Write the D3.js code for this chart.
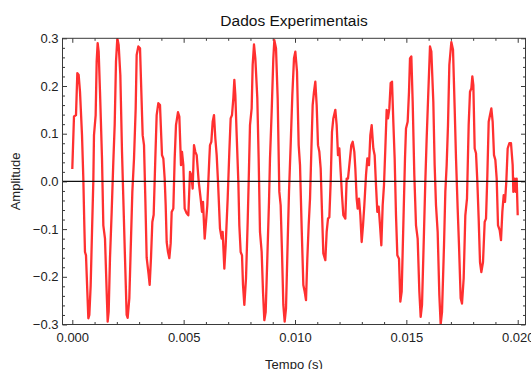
<!DOCTYPE html>
<html>
<head>
<meta charset="utf-8">
<script src="https://cdn.jsdelivr.net/npm/d3@7"></script>
<style>
  html, body { margin: 0; padding: 0; background: #fff; }
  svg { display: block; font-family: "Liberation Sans", Arial, sans-serif; }
</style>
</head>
<body>
<svg id="chart" width="531" height="369"></svg>
<script>
// Sample times (s)
const tempo = [
  0.000000, 0.000076, 0.000166, 0.000226, 0.000286, 0.000346, 0.000436, 0.000495, 0.000540, 0.000570,
  0.000615, 0.000675, 0.000720, 0.000765, 0.000825, 0.000885, 0.000944, 0.000974, 0.001049, 0.001094,
  0.001139, 0.001184, 0.001244, 0.001334, 0.001393, 0.001468, 0.001543, 0.001588, 0.001633, 0.001693,
  0.001768, 0.001842, 0.001903, 0.001962, 0.002022, 0.002082, 0.002157, 0.002232, 0.002291, 0.002366,
  0.002441, 0.002486, 0.002561, 0.002636, 0.002696, 0.002771, 0.002846, 0.002890, 0.002965, 0.003041,
  0.003100, 0.003160, 0.003220, 0.003279, 0.003339, 0.003429, 0.003474, 0.003534, 0.003594, 0.003654,
  0.003728, 0.003788, 0.003863, 0.003938, 0.003998, 0.004028, 0.004088, 0.004148, 0.004193, 0.004238,
  0.004297, 0.004357, 0.004417, 0.004462, 0.004537, 0.004597, 0.004656, 0.004746, 0.004806, 0.004881,
  0.004926, 0.004986, 0.005046, 0.005136, 0.005210, 0.005285, 0.005345, 0.005405, 0.005465, 0.005524,
  0.005585, 0.005675, 0.005764, 0.005824, 0.005869, 0.005944, 0.006004, 0.006063, 0.006153, 0.006183,
  0.006243, 0.006303, 0.006363, 0.006423, 0.006483, 0.006542, 0.006632, 0.006707, 0.006752, 0.006827,
  0.006887, 0.006977, 0.007051, 0.007111, 0.007171, 0.007231, 0.007276, 0.007321, 0.007381, 0.007455,
  0.007500, 0.007560, 0.007620, 0.007665, 0.007725, 0.007800, 0.007875, 0.007934, 0.007979, 0.008054,
  0.008099, 0.008159, 0.008219, 0.008308, 0.008368, 0.008428, 0.008503, 0.008563, 0.008623, 0.008683,
  0.008757, 0.008832, 0.008877, 0.008952, 0.009027, 0.009072, 0.009147, 0.009222, 0.009296, 0.009356,
  0.009416, 0.009476, 0.009536, 0.009596, 0.009671, 0.009731, 0.009805, 0.009880, 0.009955, 0.010015,
  0.010090, 0.010165, 0.010225, 0.010300, 0.010374, 0.010434, 0.010494, 0.010554, 0.010614, 0.010674,
  0.010733, 0.010793, 0.010853, 0.010913, 0.010973, 0.011033, 0.011093, 0.011153, 0.011212, 0.011272,
  0.011362, 0.011422, 0.011482, 0.011542, 0.011602, 0.011661, 0.011721, 0.011811, 0.011871, 0.011931,
  0.011991, 0.012051, 0.012110, 0.012170, 0.012260, 0.012320, 0.012380, 0.012529, 0.012590, 0.012664,
  0.012709, 0.012769, 0.012814, 0.012874, 0.012934, 0.012994, 0.013054, 0.013113, 0.013188, 0.013248,
  0.013323, 0.013383, 0.013443, 0.013517, 0.013577, 0.013637, 0.013697, 0.013757, 0.013817, 0.013877,
  0.013937, 0.013996, 0.014056, 0.014116, 0.014176, 0.014236, 0.014296, 0.014356, 0.014415, 0.014475,
  0.014535, 0.014595, 0.014670, 0.014730, 0.014790, 0.014864, 0.014939, 0.014984, 0.015059, 0.015119,
  0.015164, 0.015224, 0.015284, 0.015358, 0.015433, 0.015508, 0.015583, 0.015643, 0.015703, 0.015792,
  0.015852, 0.015912, 0.015987, 0.016062, 0.016122, 0.016211, 0.016271, 0.016331, 0.016406, 0.016481,
  0.016541, 0.016601, 0.016691, 0.016750, 0.016810, 0.016870, 0.016930, 0.017020, 0.017095, 0.017170,
  0.017230, 0.017304, 0.017364, 0.017439, 0.017499, 0.017574, 0.017648, 0.017723, 0.017798, 0.017858,
  0.017918, 0.017963, 0.018008, 0.018068, 0.018128, 0.018187, 0.018247, 0.018307, 0.018367, 0.018442,
  0.018517, 0.018577, 0.018637, 0.018697, 0.018756, 0.018816, 0.018876, 0.018936, 0.018996, 0.019056,
  0.019116, 0.019190, 0.019250, 0.019310, 0.019370, 0.019430, 0.019489, 0.019549, 0.019624, 0.019699,
  0.019774, 0.019804, 0.019864, 0.019909, 0.019953, 0.020000
];

// Measured amplitude at each sample time
const amplitude = [
   0.026,  0.136,  0.139,  0.227,  0.223,  0.188,  0.097,  0.006, -0.092, -0.148,
  -0.155, -0.231, -0.287, -0.280, -0.218, -0.106,  0.000,  0.097,  0.139,  0.251,
   0.290,  0.272,  0.188,  0.048, -0.092, -0.120, -0.231, -0.294, -0.273, -0.160,
  -0.064,  0.041,  0.118,  0.251,  0.300,  0.286,  0.223,  0.062, -0.036, -0.160,
  -0.280, -0.286, -0.245, -0.120, -0.022,  0.048,  0.153,  0.265,  0.283,  0.279,
   0.188,  0.097,  0.076, -0.036, -0.160, -0.196, -0.217, -0.160, -0.085, -0.070,
   0.048,  0.139,  0.164,  0.160,  0.090,  0.055,  0.048,  0.006, -0.050, -0.127,
  -0.148, -0.161, -0.130, -0.064, -0.057,  0.048,  0.118,  0.145,  0.136,  0.034,
   0.062,  0.034, -0.057, -0.067, -0.071,  0.020,  0.013, -0.015,  0.076,  0.062,
   0.055,  0.000, -0.036, -0.064, -0.043, -0.120, -0.085, -0.050,  0.048,  0.076,
   0.083,  0.125,  0.139,  0.090,  0.055,  0.000, -0.099, -0.120, -0.106, -0.183,
  -0.134, -0.036,  0.062,  0.132,  0.139,  0.174,  0.213,  0.181,  0.097,  0.000,
  -0.092, -0.148, -0.155, -0.217, -0.259, -0.203, -0.085,  0.027,  0.118,  0.153,
   0.244,  0.287,  0.258,  0.174,  0.048, -0.106, -0.148, -0.231, -0.291, -0.274,
  -0.161, -0.043,  0.048,  0.146,  0.258,  0.296,  0.279,  0.174, -0.022, -0.050,
  -0.148, -0.259, -0.294, -0.266, -0.127, -0.022,  0.076,  0.181,  0.258,  0.272,
   0.230,  0.076,  0.034, -0.099, -0.217, -0.231, -0.249, -0.161, -0.092, -0.036,
   0.062,  0.160,  0.188,  0.209,  0.160,  0.076,  0.062,  0.027, -0.064, -0.151,
  -0.165, -0.106, -0.078, -0.075,  0.000,  0.104,  0.132,  0.150,  0.118,  0.055,
   0.069,  0.020, -0.029, -0.071, -0.078,  0.006,  0.006,  0.076,  0.083,  0.062,
   0.027, -0.036, -0.057, -0.036, -0.071, -0.127, -0.092, -0.050,  0.013,  0.048,
   0.034,  0.097,  0.118,  0.069,  0.055, -0.008, -0.064, -0.053, -0.092, -0.134,
  -0.050, -0.008,  0.069,  0.150,  0.132,  0.153,  0.206,  0.209,  0.125,  0.048,
  -0.071, -0.155, -0.162, -0.252, -0.231, -0.092,  0.048,  0.111,  0.125,  0.188,
   0.258,  0.262,  0.167,  0.013, -0.092, -0.120, -0.231, -0.284, -0.259, -0.106,
   0.000,  0.090,  0.188,  0.283,  0.272,  0.167,  0.034, -0.050, -0.106, -0.238,
  -0.300, -0.274, -0.134, -0.022,  0.034,  0.118,  0.244,  0.292,  0.276,  0.153,
   0.048, -0.057, -0.134, -0.245, -0.256, -0.203, -0.071, -0.036,  0.118,  0.188,
   0.195,  0.220,  0.202,  0.069,  0.059,  0.000, -0.078, -0.169, -0.190, -0.169,
  -0.085, -0.078,  0.013,  0.125,  0.139,  0.153,  0.125,  0.055,  0.045,  0.006,
  -0.092, -0.102, -0.123, -0.064, -0.029, -0.043,  0.000,  0.069,  0.080,  0.080,
   0.034, -0.022,  0.006, -0.022,  0.006, -0.071
];

// Axis ticks and labels
const xMajorTicks = [0.000, 0.005, 0.010, 0.015, 0.020];
const xTickLabels = ["0.000", "0.005", "0.010", "0.015", "0.020"];
const yMajorTicks = [-0.3, -0.2, -0.1, 0.0, 0.1, 0.2, 0.3];
const yTickLabels = ["\u22120.3", "\u22120.2", "\u22120.1", "0.0", "0.1", "0.2", "0.3"];

const titleText = "Dados Experimentais";
const xAxisTitle = "Tempo (s)";
const yAxisTitle = "Amplitude";

const svg = d3.select("#chart");
const frame = { left: 62.5, right: 525.5, top: 38.3, bottom: 324.5 };

const x = d3.scaleLinear().domain([-0.00044, 0.02035]).range([frame.left, frame.right]);
const y = d3.scaleLinear().domain([-0.3, 0.3]).range([frame.bottom, frame.top]);

const xMinor = d3.range(0, 0.0204, 0.001).map(v => +v.toFixed(4))
  .filter(v => !xMajorTicks.some(m => Math.abs(m - v) < 1e-9));
const yMinor = d3.range(-0.3, 0.3001, 0.02).map(v => +v.toFixed(3))
  .filter(v => !yMajorTicks.some(m => Math.abs(m - v) < 1e-9));

const frameColor = "#3a3a3a";
const labelColor = "#222";

// Clip region for the data line
svg.append("defs").append("clipPath").attr("id", "plotClip")
  .append("rect")
  .attr("x", frame.left).attr("y", frame.top)
  .attr("width", frame.right - frame.left)
  .attr("height", frame.bottom - frame.top);

// Tick helper: draws inward ticks on one side of the frame
function drawAxis(axisGen, transform, cls) {
  const g = svg.append("g").attr("class", cls).attr("transform", transform).call(axisGen);
  g.select(".domain").remove();
  g.selectAll(".tick line").attr("stroke", frameColor).attr("stroke-width", 1);
  g.selectAll(".tick text").attr("fill", labelColor).style("font-size", "13px")
    .style("font-family", "'Liberation Sans', Arial, sans-serif");
  return g;
}

// Bottom axis (labelled) and its minor ticks
drawAxis(d3.axisBottom(x).tickValues(xMajorTicks).tickSize(-4.5).tickPadding(8.5)
  .tickFormat((d, i) => xTickLabels[i]), `translate(0,${frame.bottom})`, "x-major");
drawAxis(d3.axisBottom(x).tickValues(xMinor).tickSize(-2.5).tickFormat(""),
  `translate(0,${frame.bottom})`, "x-minor");
// Top axis mirrors the ticks without labels
drawAxis(d3.axisTop(x).tickValues(xMajorTicks).tickSize(-4.5).tickFormat(""),
  `translate(0,${frame.top})`, "x-top-major");
drawAxis(d3.axisTop(x).tickValues(xMinor).tickSize(-2.5).tickFormat(""),
  `translate(0,${frame.top})`, "x-top-minor");

// Left axis (labelled) and minor ticks
drawAxis(d3.axisLeft(y).tickValues(yMajorTicks).tickSize(-4.5).tickPadding(4)
  .tickFormat((d, i) => yTickLabels[i]), `translate(${frame.left},0)`, "y-major");
drawAxis(d3.axisLeft(y).tickValues(yMinor).tickSize(-2.5).tickFormat(""),
  `translate(${frame.left},0)`, "y-minor");
// Right axis mirrors the ticks
drawAxis(d3.axisRight(y).tickValues(yMajorTicks).tickSize(-4.5).tickFormat(""),
  `translate(${frame.right},0)`, "y-right-major");
drawAxis(d3.axisRight(y).tickValues(yMinor).tickSize(-2.5).tickFormat(""),
  `translate(${frame.right},0)`, "y-right-minor");

// Signal line
const points = tempo.map((t, i) => [t, amplitude[i]]);
const line = d3.line().x(d => x(d[0])).y(d => y(d[1]));
svg.append("path")
  .datum(points)
  .attr("clip-path", "url(#plotClip)")
  .attr("d", line)
  .attr("fill", "none")
  .attr("stroke", "#ff1a1a")
  .attr("stroke-opacity", 0.9)
  .attr("stroke-width", 2.3)
  .attr("stroke-linejoin", "round");

// Zero reference line
svg.append("line")
  .attr("x1", frame.left).attr("x2", frame.right)
  .attr("y1", y(0)).attr("y2", y(0))
  .attr("stroke", "#111").attr("stroke-width", 1.1);

// Frame
svg.append("rect")
  .attr("x", frame.left).attr("y", frame.top)
  .attr("width", frame.right - frame.left)
  .attr("height", frame.bottom - frame.top)
  .attr("fill", "none").attr("stroke", frameColor).attr("stroke-width", 1);

// Titles
svg.append("text")
  .attr("x", (frame.left + frame.right) / 2).attr("y", 26)
  .attr("text-anchor", "middle").attr("fill", "#111")
  .style("font-size", "15.5px")
  .text(titleText);

svg.append("text")
  .attr("x", (frame.left + frame.right) / 2).attr("y", 369)
  .attr("text-anchor", "middle").attr("fill", labelColor)
  .style("font-size", "13px")
  .text(xAxisTitle);

svg.append("text")
  .attr("transform", `translate(20,${(frame.top + frame.bottom) / 2}) rotate(-90)`)
  .attr("text-anchor", "middle").attr("fill", labelColor)
  .style("font-size", "13px")
  .text(yAxisTitle);
</script>
</body>
</html>
